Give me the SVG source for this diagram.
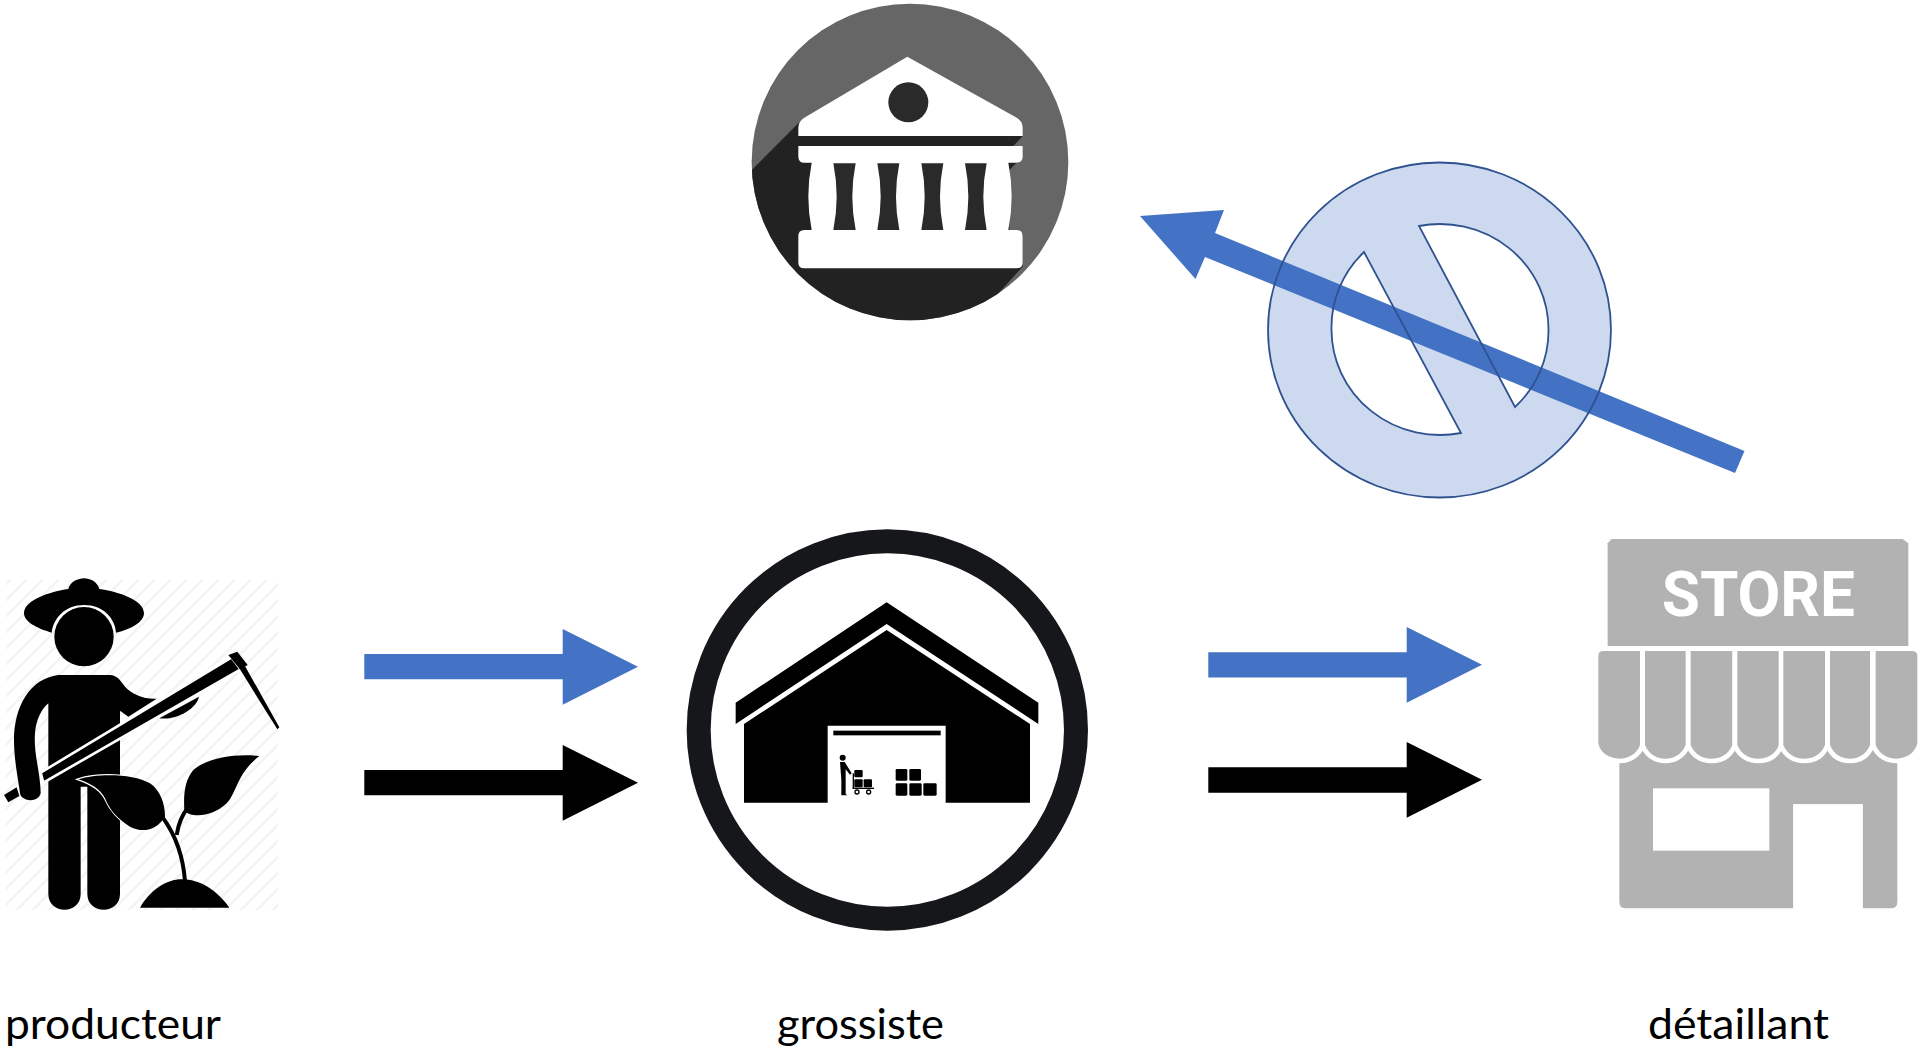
<svg xmlns="http://www.w3.org/2000/svg" width="1921" height="1048" viewBox="0 0 1921 1048">
<style>
.lbl{font-family:"Lato","Carlito","Open Sans",sans-serif;font-size:42px;fill:#000}
.blue{fill:#4472c4}
.blk{fill:#000}
.k{fill:#000}
.g{fill:#b2b2b2}
.panel{fill:#b2b2b2;stroke:#fff;stroke-width:28;paint-order:stroke fill}
.box{fill:#000}
</style>
<defs>
<pattern id="hatch" width="34" height="34" patternUnits="userSpaceOnUse" patternTransform="rotate(45)">
<rect width="34" height="34" fill="#fff"/>
<rect x="0" width="8" height="34" fill="#f4f4f4"/>
</pattern>
<clipPath id="bankClip"><circle cx="510" cy="486" r="475"/></clipPath>
</defs>
<rect width="1921" height="1048" fill="#fff"/>

<g id="connectors">
<polygon class="blue" points="364.3,654 562.7,654 562.7,629 638,666.7 562.7,704.7 562.7,679.3 364.3,679.3"/>
<polygon class="blk" points="364.3,770 562.7,770 562.7,745 638,782.7 562.7,820.7 562.7,795.3 364.3,795.3"/>
<polygon class="blue" points="1208.3,652.3 1406.7,652.3 1406.7,627 1482,664.7 1406.7,702.7 1406.7,677.5 1208.3,677.5"/>
<polygon class="blk" points="1208.3,767.3 1406.7,767.3 1406.7,742 1482,779.7 1406.7,817.7 1406.7,792.7 1208.3,792.7"/>
<polygon class="blue" points="1140,216 1224,210 1215,233 1744.5,451 1735,473 1205,257 1195.5,279"/>
</g>

<g id="prohibited">
<path fill="#4472c4" fill-opacity="0.27" stroke="#2f528f" stroke-width="1.8" fill-rule="evenodd" d="M1268,330a171.5,167.5 0 1 0 343,0a171.5,167.5 0 1 0 -343,0Z M1419,226 A108.5,105.5 0 0 1 1548.5,330 A108.5,105.5 0 0 1 1515,407 Z M1364,252 L1461,433 A108.5,105.5 0 0 1 1331.5,330 A108.5,105.5 0 0 1 1364,252 Z"/>
</g>

<g id="bank">
<g transform="translate(740,0) scale(0.33333)">
<circle cx="510" cy="486" r="475" fill="#666"/>
<polygon clip-path="url(#bankClip)" fill="#222" points="20,525 175,370 500,300 848,408 820,438 848,470 808,510 808,690 848,700 848,800 735,925 735,1000 0,1000"/>
<path fill="#fff" d="M502,170 L825,350 Q848,362 848,382 V408 H175 V382 Q175,362 198,350 Z"/>
<circle cx="505" cy="307" r="60" fill="#2a2a2a"/>
<path fill="#fff" d="M175,438 H848 V470 Q848,488 828,488 H805 Q825,590 805,690 H830 Q848,690 848,708 V788 Q848,805 830,805 H193 Q175,805 175,788 V708 Q175,690 193,690 H215 Q195,590 215,488 H193 Q175,488 175,470 Z"/>
<path fill="#2a2a2a" d="M280,490 H347 Q327,590 347,690 H280 Q300,590 280,490 Z M412,490 H478 Q458,590 478,690 H412 Q432,590 412,490 Z M544,490 H610 Q590,590 610,690 H544 Q564,590 544,490 Z M675,490 H740 Q720,590 740,690 H675 Q695,590 675,490 Z"/>
</g>
</g>

<g id="producteur">
<g transform="translate(0,540) scale(0.33333)">
<rect x="18" y="120" width="817" height="990" fill="url(#hatch)"/>
<polygon class="k" points="12,765 50,742 58,768 25,787"/>
<path class="k" d="M155,278 C110,265 72,245 72,220 C72,180 150,155 205,147 C210,125 235,115 252,115 C270,115 292,125 298,147 C355,155 432,180 432,220 C432,245 395,268 348,278 C345,235 310,195 252,195 C195,195 160,235 155,278 Z"/>
<circle class="k" cx="252" cy="290" r="89"/>
<path class="k" d="M175,405 H330 C350,405 360,420 375,440 C395,462 430,478 470,476 L385,530 L360,512 V1062 C360,1125 262,1125 262,1062 V740 H242 V1062 C242,1125 145,1125 145,1062 V490 C125,505 108,540 105,580 C100,640 122,700 122,760 C115,790 63,785 60,760 C55,720 42,660 42,600 C42,500 90,415 175,405 Z"/>
<path class="k" d="M478,535 L597,470 C590,505 530,542 478,535 Z"/>
<polygon class="k" stroke="#fff" stroke-width="8" points="122,698 695,352 722,388 130,728"/>
<polygon class="k" points="685,345 712,335 743,375 720,388"/>
<polygon class="k" points="718,385 735,378 838,562 832,568"/>
<path class="k" d="M420,1103 C450,1050 500,1018 545,1018 C600,1018 650,1050 688,1103 Z"/>
<path class="k" stroke="#fff" stroke-width="7" paint-order="stroke fill" d="M235,718 C290,700 400,700 450,730 C480,750 495,790 495,830 C470,870 430,880 390,860 C350,835 330,810 315,775 C300,745 270,730 235,718 Z"/>
<path d="M555,1025 C550,950 530,890 488,832" fill="none" stroke="#000" stroke-width="12"/>
<path d="M530,885 C535,850 545,825 566,800" fill="none" stroke="#000" stroke-width="12"/>
<path class="k" d="M778,648 C700,640 620,655 580,690 C555,720 550,760 553,812 C575,835 640,830 680,790 C710,760 710,700 778,648 Z"/>
</g>
<text class="lbl" x="5" y="1038.5" textLength="216" lengthAdjust="spacingAndGlyphs">producteur</text>
</g>

<g id="grossiste">
<g transform="translate(670,520) scale(0.33333)">
<circle cx="652" cy="630" r="566" fill="#fff" stroke="#16171b" stroke-width="72"/>
<path class="k" d="M650,247 L1105,548 V612 L650,312 L197,612 V548 Z"/>
<path class="k" d="M650,330 L1080,612 V848 H827 V617 H473 V848 H222 V612 Z"/>
<rect class="k" x="490" y="632" width="322" height="14"/>
<circle class="k" cx="518" cy="713" r="9"/>
<path class="k" d="M510,726 L524,726 L545,760 L540,764 L527,748 V822 L532,826 H514 V780 Z"/>
<rect class="box" x="553" y="750" width="25" height="22" rx="3"/>
<rect class="box" x="553" y="778" width="25" height="24" rx="3"/>
<rect class="box" x="581" y="778" width="25" height="24" rx="3"/>
<rect class="k" x="548" y="803" width="64" height="4"/>
<rect class="k" x="548" y="760" width="4" height="46"/>
<circle cx="561" cy="816" r="6" fill="#fff" stroke="#000" stroke-width="4"/>
<circle cx="596" cy="816" r="6" fill="#fff" stroke="#000" stroke-width="4"/>
<rect class="box" x="677" y="747" width="35" height="35" rx="4"/>
<rect class="box" x="718" y="747" width="35" height="35" rx="4"/>
<rect class="box" x="677" y="790" width="35" height="37" rx="4"/>
<rect class="box" x="718" y="790" width="37" height="37" rx="4"/>
<rect class="box" x="760" y="790" width="40" height="37" rx="4"/>
</g>
<text class="lbl" x="777" y="1038.5" textLength="167" lengthAdjust="spacingAndGlyphs">grossiste</text>
</g>

<g id="detaillant">
<g transform="translate(1580,520) scale(0.33333)">
<path class="g" d="M95,57 H968 L985,70 V378 H83 V70 Z"/>
<path class="g" d="M118,680 H952 V1145 Q952,1165 932,1165 H848 V853 H640 V1165 H138 Q118,1165 118,1145 Z"/>
<rect x="219" y="805" width="349" height="187" fill="#fff"/>
<rect x="640" y="853" width="208" height="312" fill="#fff"/>
<path class="panel" d="M70,393 H180 V675 C170,705 140,716 118,716 C90,716 60,700 55,670 V408 Q55,393 70,393 Z"/>
<path class="panel" d="M195,393 H317 V675 C305,705 280,716 256,716 C232,716 207,705 195,675 Z"/>
<path class="panel" d="M332,393 H457 V675 C445,705 420,716 394,716 C370,716 344,705 332,675 Z"/>
<path class="panel" d="M472,393 H597 V675 C585,705 560,716 534,716 C510,716 484,705 472,675 Z"/>
<path class="panel" d="M610,393 H735 V675 C723,705 698,716 672,716 C648,716 622,705 610,675 Z"/>
<path class="panel" d="M750,393 H870 V675 C858,705 834,716 810,716 C786,716 762,705 750,675 Z"/>
<path class="panel" d="M887,393 H995 Q1012,393 1012,408 V670 C1005,700 978,716 950,716 C925,716 899,705 887,675 Z"/>
<text x="245" y="288" font-family="Roboto,sans-serif" font-weight="700" font-size="187" fill="#fff" textLength="580" lengthAdjust="spacingAndGlyphs">STORE</text>
</g>
<text class="lbl" x="1648" y="1038.5" textLength="181" lengthAdjust="spacingAndGlyphs">détaillant</text>
</g>
</svg>
